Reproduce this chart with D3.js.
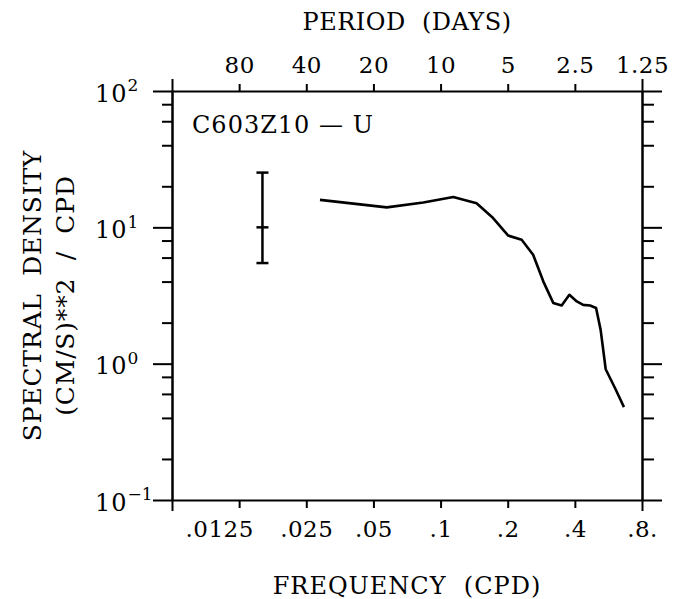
<!DOCTYPE html>
<html>
<head>
<meta charset="utf-8">
<script src="https://cdn.jsdelivr.net/npm/d3@7"></script>
<style>
  body { margin: 0; background: #fff; }
  text { font-family: "DejaVu Serif", serif; fill: #000; }
</style>
</head>
<body>
<svg id="chart" width="686" height="599"></svg>
<script>
// spectrum values
var freq = [0.0288, 0.0574, 0.0837, 0.114, 0.145, 0.172, 0.201, 0.231, 0.26, 0.289,
            0.32, 0.349, 0.378, 0.408, 0.436, 0.468, 0.498, 0.522, 0.55, 0.606, 0.664];
var density = [15.9, 14.0, 15.2, 16.7, 15.0, 11.7, 8.7, 8.1, 6.3, 4.0,
               2.79, 2.67, 3.2, 2.86, 2.7, 2.67, 2.56, 1.77, 0.91, 0.66, 0.48];

// confidence bar
var errFreq = 0.0159;
var errLow = 5.47, errMid = 10, errHigh = 25.2;

var freqTicks = [0.0125, 0.025, 0.05, 0.1, 0.2, 0.4, 0.8];
var freqLabels = [".0125", ".025", ".05", ".1", ".2", ".4", ".8."];
var periodLabels = ["80", "40", "20", "10", "5", "2.5", "1.25"];
var yMajor = [0.1, 1, 10, 100];
var yExp = ["\u22121", "0", "1", "2"];
var yMinor = [0.2, 0.4, 0.6, 0.8, 2, 4, 6, 8, 20, 40, 60, 80];

var svg = d3.select("#chart");

var pLeft = 172, pRight = 642, pTop = 91, pBottom = 500;
var fMin = 0.00625;

var x = d3.scaleLog().base(2).domain([fMin, 0.8]).range([pLeft, pRight]);
var y = d3.scaleLog().domain([0.1, 100]).range([pBottom, pTop]);

function styleAxis(g) {
    g.select(".domain").attr("stroke", "#000").attr("stroke-width", 2);
    g.selectAll(".tick line").attr("stroke", "#000").attr("stroke-width", 2);
    g.selectAll(".tick text").attr("font-size", 23).attr("letter-spacing", 0.5);
}

// bottom
var xb = svg.append("g")
    .attr("transform", "translate(0," + pBottom + ")")
    .call(d3.axisBottom(x)
        .tickValues([fMin].concat(freqTicks))
        .tickFormat(function (d) { var i = freqTicks.indexOf(d); return i < 0 ? "" : freqLabels[i]; })
        .tickSize(8).tickSizeOuter(0).tickPadding(11));
styleAxis(xb);
xb.selectAll(".tick text").attr("dy", "0.78em")
    .attr("dx", function (d) { return d == 0.0125 ? -20 : 0; });
xb.selectAll(".tick line").filter(function (d) { return d == fMin || d == 0.8; }).attr("y2", 11);

// top
var xt = svg.append("g")
    .attr("transform", "translate(0," + pTop + ")")
    .call(d3.axisTop(x)
        .tickValues([fMin].concat(freqTicks))
        .tickFormat(function (d) { var i = freqTicks.indexOf(d); return i < 0 ? "" : periodLabels[i]; })
        .tickSize(7).tickSizeOuter(0).tickPadding(11));
styleAxis(xt);
xt.selectAll(".tick line").filter(function (d) { return d == fMin || d == 0.8; }).attr("y2", -12);

// left
var yl = svg.append("g")
    .attr("transform", "translate(" + pLeft + ",0)")
    .call(d3.axisLeft(y).tickValues(yMajor).tickFormat("").tickSize(19).tickSizeOuter(0));
styleAxis(yl);
yl.selectAll(".tick text").each(function (d) {
    var t = d3.select(this);
    t.text("10").attr("font-size", 24).attr("letter-spacing", 1)
        .attr("text-anchor", "start").attr("dy", "0.42em").attr("x", -77);
    t.append("tspan").attr("dy", "-0.6em").attr("font-size", 17).attr("letter-spacing", 0)
        .text(yExp[yMajor.indexOf(d)]);
});
var ylm = svg.append("g")
    .attr("transform", "translate(" + pLeft + ",0)")
    .call(d3.axisLeft(y).tickValues(yMinor).tickFormat("").tickSize(10).tickSizeOuter(0));
styleAxis(ylm);

// right
var yr = svg.append("g")
    .attr("transform", "translate(" + pRight + ",0)")
    .call(d3.axisRight(y).tickValues(yMajor).tickFormat("").tickSize(20).tickSizeOuter(0));
styleAxis(yr);
var yrm = svg.append("g")
    .attr("transform", "translate(" + pRight + ",0)")
    .call(d3.axisRight(y).tickValues(yMinor).tickFormat("").tickSize(12).tickSizeOuter(0));
styleAxis(yrm);

// spectrum
var line = d3.line()
    .x(function (d, i) { return x(freq[i]); })
    .y(function (d, i) { return y(density[i]); });

svg.append("path")
    .datum(density)
    .attr("d", line)
    .attr("fill", "none")
    .attr("stroke", "#000")
    .attr("stroke-width", 2.6)
    .attr("stroke-linejoin", "round");

// error bar
var eb = svg.append("g").attr("stroke", "#000").attr("stroke-width", 2.5);
eb.append("line")
    .attr("x1", x(errFreq)).attr("x2", x(errFreq))
    .attr("y1", y(errLow)).attr("y2", y(errHigh));
[errLow, errMid, errHigh].forEach(function (v) {
    eb.append("line")
        .attr("x1", x(errFreq) - 6).attr("x2", x(errFreq) + 6)
        .attr("y1", y(v)).attr("y2", y(v));
});

// text
svg.append("text")
    .attr("x", pLeft + 20).attr("y", pTop + 42)
    .attr("font-size", 24)
    .attr("letter-spacing", 1)
    .text("C603Z10 \u2014 U");

svg.append("text")
    .attr("x", (pLeft + pRight) / 2).attr("y", 30)
    .attr("text-anchor", "middle")
    .attr("font-size", 24)
    .attr("letter-spacing", 0.5)
    .attr("xml:space", "preserve")
    .text("PERIOD  (DAYS)");

svg.append("text")
    .attr("x", (pLeft + pRight) / 2).attr("y", 594)
    .attr("text-anchor", "middle")
    .attr("font-size", 24)
    .attr("letter-spacing", 1)
    .attr("xml:space", "preserve")
    .text("FREQUENCY  (CPD)");

var ytitle = svg.append("text")
    .attr("transform", "translate(41," + ((pTop + pBottom) / 2) + ") rotate(-90)")
    .attr("text-anchor", "middle")
    .attr("font-size", 25)
    .attr("letter-spacing", 0.8)
    .attr("xml:space", "preserve");
ytitle.append("tspan").attr("x", 0).attr("dy", 0).text("SPECTRAL  DENSITY");
ytitle.append("tspan").attr("x", 0).attr("dy", 33).text("(CM/S)**2  /  CPD");
</script>
</body>
</html>
